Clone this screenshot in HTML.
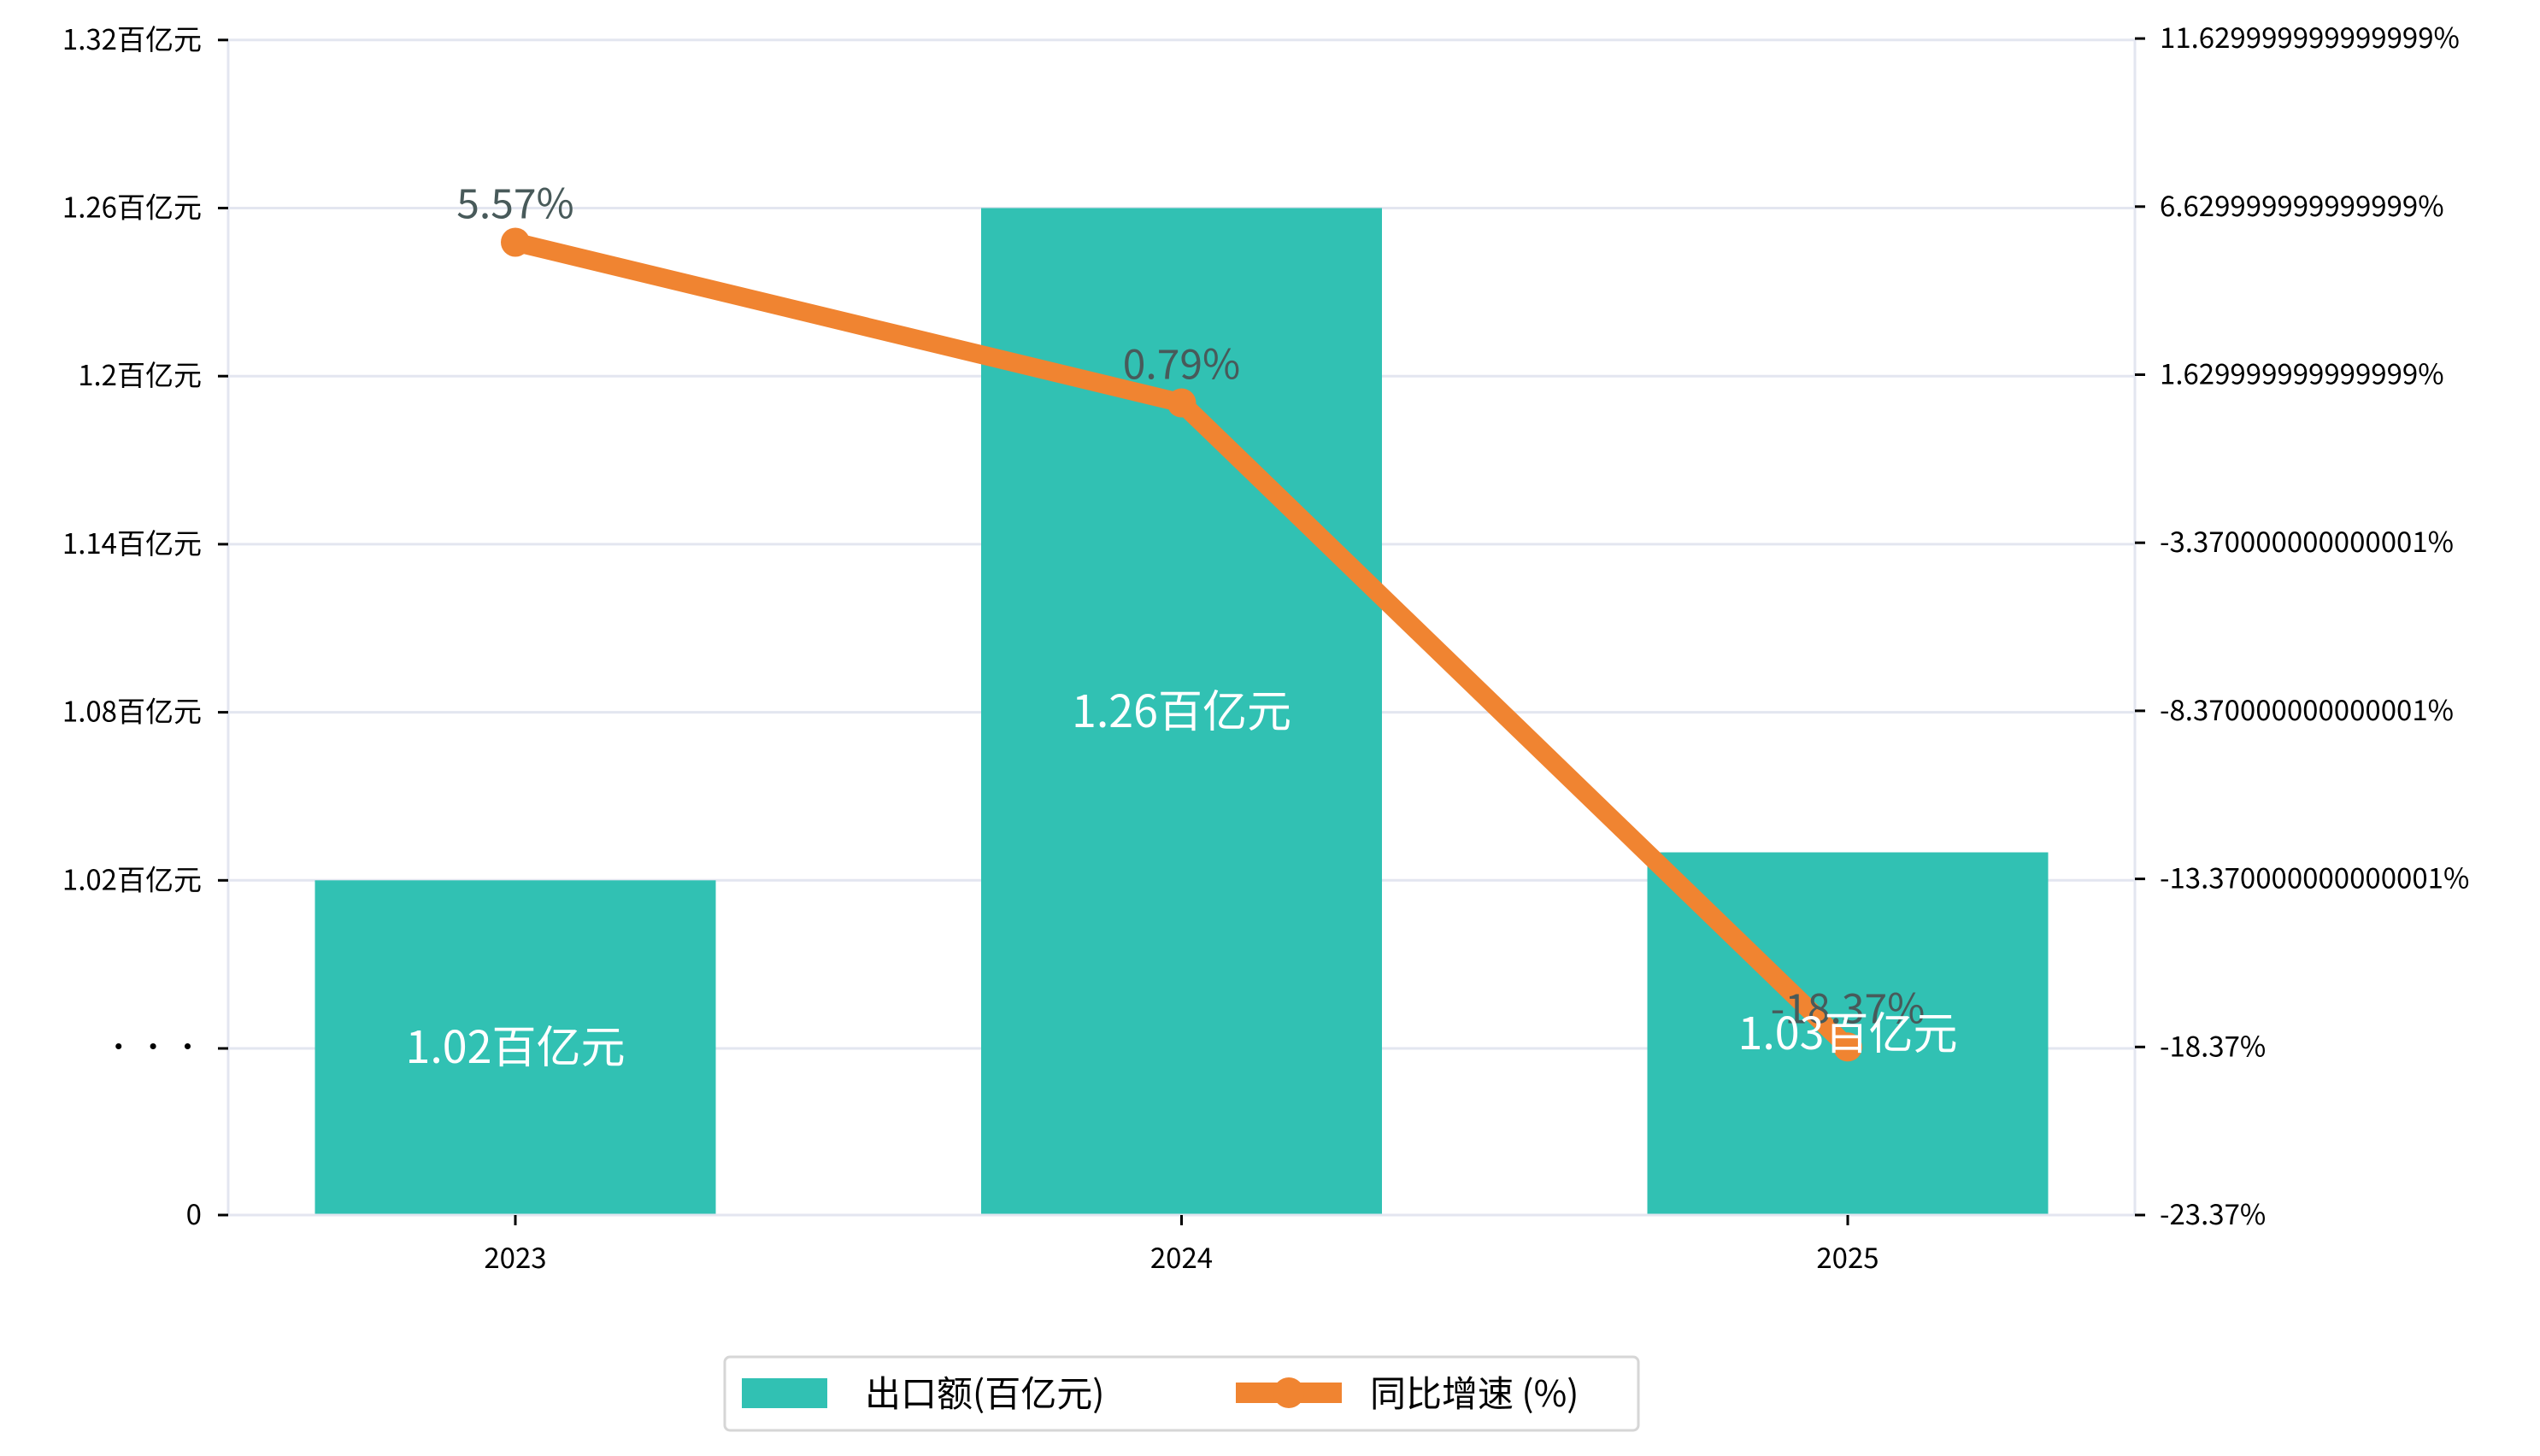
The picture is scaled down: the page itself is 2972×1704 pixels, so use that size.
<!DOCTYPE html>
<html><head><meta charset="utf-8"><style>
html,body{margin:0;padding:0;background:#fff;}
svg{display:block;font-family:"WenQuanYi Zen Hei","Noto Sans CJK SC","Liberation Sans",sans-serif;}
</style></head><body>
<svg id="chart" width="2972" height="1704" viewBox="0 0 2972 1704" xmlns="http://www.w3.org/2000/svg">
<g id="grid"></g>
<g id="bars"></g>
<g id="axes"></g>
<g id="line"></g>
<g id="labels"></g>
<g>
  <rect x="848" y="1588" width="1069" height="86" rx="6" fill="#fff" stroke="#d6d6d6" stroke-width="3"/>
  <rect x="868" y="1613" width="100" height="35" fill="#31c1b3"/>
  <text x="1012" y="1646" font-size="42" fill="#000">出口额(百亿元)</text>
  <line x1="1446" y1="1630" x2="1570" y2="1630" stroke="#f08431" stroke-width="24"/>
  <circle cx="1508" cy="1630" r="18" fill="#f08431"/>
  <text x="1603" y="1646" font-size="42" fill="#000">同比增速 (%)</text>
</g>
</svg>
<script>
const categories = ["2023","2024","2025"];
const exportValues = [1.02, 1.26, 1.03];
const growthValues = [5.57, 0.79, -18.37];
const leftTicks = [1.32, 1.26, 1.2, 1.14, 1.08, 1.02];
const leftTickLabels = ["1.32百亿元","1.26百亿元","1.2百亿元","1.14百亿元","1.08百亿元","1.02百亿元"];
const rightTicks = [11.63, 6.63, 1.63, -3.37, -8.37, -13.37, -18.37, -23.37];
const rightTickLabels = ["11.629999999999999%","6.629999999999999%","1.629999999999999%","-3.370000000000001%","-8.370000000000001%","-13.370000000000001%","-18.37%","-23.37%"];

const NS="http://www.w3.org/2000/svg";
const L=267, R=2498, BOT=1422, BREAK=1227, STEP=196.7;
function mk(tag, attrs, parent){const e=document.createElementNS(NS,tag);for(const k in attrs)e.setAttribute(k,attrs[k]);parent.appendChild(e);return e;}
function xPos(i){return 603 + i*779.5;}
function yLeft(v){return BREAK - (v-0.96)/0.06*STEP;}
function yRight(v){return BOT - (v-(-23.37))/5*STEP;}

const grid=document.getElementById('grid'), bars=document.getElementById('bars'), axes=document.getElementById('axes'), line=document.getElementById('line'), labels=document.getElementById('labels');

const gridYs = leftTicks.map(yLeft).concat([BREAK]);
gridYs.forEach(y=>{
  const g=mk('line',{x1:L,x2:R,y1:y,y2:y,stroke:'#e3e6f0','stroke-width':3},grid);
  
  
});

exportValues.forEach((v,i)=>{
  const y=yLeft(v), w=469;
  const b=mk('rect',{x:xPos(i)-w/2,y:y,width:w,height:BOT-y,fill:'#31c1b3'},bars);
  
  
  const t=mk('text',{x:xPos(i),y:(y+BOT)/2+18,'font-size':52,fill:'#fff','text-anchor':'middle'},labels);
  t.textContent=v+'百亿元';
  
  
});

[[L,46,L,BOT],[R,46,R,BOT],[L,BOT,R,BOT]].forEach(c=>{
  const s=mk('line',{x1:c[0],y1:c[1],x2:c[2],y2:c[3],stroke:'#e3e6f0','stroke-width':3},axes);
  
  
});

leftTicks.forEach((v,i)=>{
  const y=yLeft(v);
  mk('line',{x1:L-12,x2:L,y1:y,y2:y,stroke:'#000','stroke-width':3},axes);
  const t=mk('text',{x:236,y:y+11,'font-size':33,'text-anchor':'end',fill:'#000'},axes);
  t.textContent=leftTickLabels[i];
  
  
});
mk('line',{x1:L-12,x2:L,y1:BREAK,y2:BREAK,stroke:'#000','stroke-width':3},axes);
const dots=mk('text',{x:236,y:BREAK+10,'font-size':33,'text-anchor':'end',fill:'#000'},axes);
dots.textContent='· · ·';


mk('line',{x1:L-12,x2:L,y1:BOT,y2:BOT,stroke:'#000','stroke-width':3},axes);
const zero=mk('text',{x:236,y:BOT+11,'font-size':33,'text-anchor':'end',fill:'#000'},axes);
zero.textContent='0';



rightTicks.forEach((v,i)=>{
  const y=yRight(v);
  mk('line',{x1:R,x2:R+12,y1:y,y2:y,stroke:'#000','stroke-width':3},axes);
  const t=mk('text',{x:2527,y:y+11,'font-size':33,fill:'#000'},axes);
  t.textContent=rightTickLabels[i];
  
  
});

categories.forEach((c,i)=>{
  mk('line',{x1:xPos(i),x2:xPos(i),y1:BOT,y2:BOT+12,stroke:'#000','stroke-width':3},axes);
  const t=mk('text',{x:xPos(i),y:1484,'font-size':33,'text-anchor':'middle',fill:'#000'},axes);
  t.textContent=c;
  
  
});

const pts=growthValues.map((v,i)=>xPos(i)+','+yRight(v)).join(' ');
const pl=mk('polyline',{points:pts,fill:'none',stroke:'#f08431','stroke-width':22,'stroke-linejoin':'round'},line);


growthValues.forEach((v,i)=>{
  const c=mk('circle',{cx:xPos(i),cy:yRight(v),r:17,fill:'#f08431'},line);
  
  
  const t=mk('text',{x:xPos(i),y:yRight(v)-28,'font-size':48,'text-anchor':'middle',fill:'#485a5a'},line);
  t.textContent=v.toFixed(2)+'%';
  
  
});
</script>
</body></html>
